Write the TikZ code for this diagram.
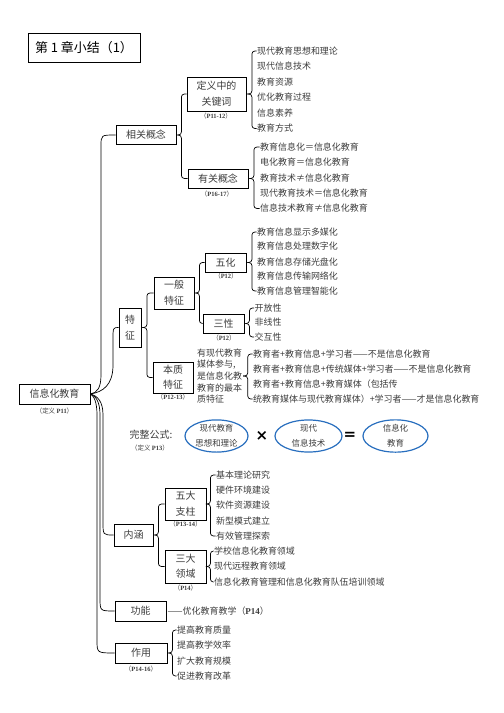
\documentclass[tikz,border=0pt]{standalone}
\usepackage{fontspec}
\setmainfont{Noto Sans CJK SC}
\newfontfamily\symfont{DejaVu Sans}
\newfontfamily\lser{Liberation Serif}
\usetikzlibrary{shapes.geometric}
\definecolor{eblue}{RGB}{40,110,190}
\definecolor{txt}{RGB}{60,60,60}
\newcommand\pref[1]{{\lser\bfseries #1}}
\tikzset{
  box/.style={draw=black, line width=0.8bp, rectangle, inner sep=0pt, align=center,
    text=txt, font=\fontsize{10}{16}\selectfont},
  itemtext/.style={anchor=west, inner sep=0.5bp, text=txt, font=\fontsize{9}{11}\selectfont},
  reflabel/.style={inner sep=0pt, text=txt, font=\fontsize{6.5}{7}\selectfont},
  brc/.style={draw=black, line width=0.7bp, rounded corners=3bp},
  rootc/.style={draw=black, line width=0.7bp},
  ell/.style={ellipse, draw=eblue, line width=1.2bp, inner sep=0pt, minimum height=28bp,
    align=center, text=txt, font=\fontsize{8.5}{15}\selectfont},
}
\newcommand\mybrace[4]{%
  \draw[brc] ([xshift=1bp]#2) -- ++(#1,0) |- (#3);
  \draw[brc] ([xshift=1bp]#2) -- ++(#1,0) |- (#4);}
\begin{document}
\begin{tikzpicture}[x=1bp,y=-1bp]
\useasboundingbox (0,0) rectangle (504,713);

% title
\node[box, minimum width=112bp, minimum height=29bp, text=black, font=\fontsize{13}{13}\selectfont] (title) at (84,47.5) {第 1 章小结（1）};

% main nodes
\node[box, minimum width=71bp, minimum height=20bp] (root) at (54.5,394) {信息化教育};
\node[reflabel] (rootl) at (54.5,411) {（定义 \pref{P11}）};

\node[box, minimum width=60bp, minimum height=19bp] (xg) at (146,135) {相关概念};
\node[box, minimum width=59bp, minimum height=34bp] (dy) at (216.5,94) {定义中的\\关键词};
\node[reflabel] (dyl) at (216,116) {（\pref{P11-12}）};
\node[box, minimum width=60bp, minimum height=19bp] (yg) at (218,178.5) {有关概念};
\node[reflabel] (ygl) at (217,194) {（\pref{P16-17}）};

\node[box, minimum width=22bp, minimum height=39bp] (tz) at (130,327.5) {特\\征};
\node[box, minimum width=40bp, minimum height=32bp] (yb) at (174,293) {一般\\特征};
\node[box, minimum width=41bp, minimum height=19bp] (wh) at (225.5,262.5) {五化};
\node[reflabel] (whl) at (226,276.5) {（\pref{P12}）};
\node[box, minimum width=41bp, minimum height=19bp] (sx) at (223.5,323.5) {三性};
\node[reflabel] (sxl) at (224,338) {（\pref{P12}）};
\node[box, minimum width=40bp, minimum height=31bp, font=\fontsize{10}{15}\selectfont] (bz) at (173,377.5) {本质\\特征};
\node[reflabel] (bzl) at (173,397) {（\pref{P12-13}）};
\node[anchor=west, inner sep=0pt, align=left, text=txt, font=\fontsize{9}{11.75}\selectfont] (desc) at (197,376) {有现代教育\\媒体参与,\\是信息化教\\教育的最本\\质特征};

\node[box, minimum width=39bp, minimum height=22bp] (nh) at (133.5,535) {内涵};
\node[box, minimum width=41bp, minimum height=32bp] (wd) at (185.5,504) {五大\\支柱};
\node[reflabel] (wdl) at (185.5,524) {（\pref{P13-14}）};
\node[box, minimum width=41bp, minimum height=33bp, font=\fontsize{10}{15}\selectfont] (sd) at (185.5,566.5) {三大\\领域};
\node[reflabel] (sdl) at (185.5,588) {（\pref{P14}）};

\node[box, minimum width=51bp, minimum height=20bp] (gn) at (140.5,611) {功能};
\node[itemtext] (gnt) at (167,611) {——优化教育教学（\pref{P14}）};
\node[box, minimum width=52bp, minimum height=20bp] (zy) at (141,653) {作用};
\node[reflabel] (zyl) at (141,669) {（\pref{P14-16}）};

% formula
\node[inner sep=0pt, text=txt, font=\fontsize{10}{12}\selectfont] (wz) at (151,435) {完整公式:};
\node[reflabel] (wzl) at (150,448) {（定义 \pref{P13}）};
\node[ell, minimum width=63bp] (el1) at (216.5,436) {现代教育\\思想和理论};
\node[inner sep=0pt, font=\symfont\bfseries\fontsize{15}{15}\selectfont] (times) at (262,436) {×};
\node[ell, minimum width=67bp] (el2) at (308.5,436) {现代\\信息技术};
\node[inner sep=0pt, font=\symfont\bfseries\fontsize{15}{15}\selectfont] (eq) at (350,436) {=};
\node[ell, minimum width=65bp] (el3) at (395.5,436) {信息化\\教育};

% lists
\foreach \t/\y [count=\i] in {现代教育思想和理论/51, 现代信息技术/66.5, 教育资源/82, 优化教育过程/97.5, 信息素养/113, 教育方式/128.5}
  \node[itemtext] (a\i) at (256.5,\y) {\t};
\foreach \t/\y [count=\i] in {教育信息化＝信息化教育/147, 电化教育＝信息化教育/162.5, 教育技术≠信息化教育/178, 现代教育技术＝信息化教育/193, 信息技术教育≠信息化教育/208.5}
  \node[itemtext] (b\i) at (259.5,\y) {\t};
\foreach \t/\y [count=\i] in {教育信息显示多媒化/232, 教育信息处理数字化/246.5, 教育信息存储光盘化/262, 教育信息传输网络化/276.5, 教育信息管理智能化/291}
  \node[itemtext] (c\i) at (256.5,\y) {\t};
\foreach \t/\y [count=\i] in {开放性/308, 非线性/322.5, 交互性/337}
  \node[itemtext] (d\i) at (254,\y) {\t};
\foreach \t/\y [count=\i] in {教育者+教育信息+学习者——不是信息化教育/354, 教育者+教育信息+传统媒体+学习者——不是信息化教育/369.5, 教育者+教育信息+教育媒体（包括传/384, 统教育媒体与现代教育媒体）+学习者——才是信息化教育/399}
  \node[itemtext] (e\i) at (252.5,\y) {\t};
\foreach \t/\y [count=\i] in {基本理论研究/475, 硬件环境建设/490, 软件资源建设/505.5, 新型模式建立/521, 有效管理探索/536}
  \node[itemtext] (f\i) at (215.5,\y) {\t};
\foreach \t/\y [count=\i] in {学校信息化教育领域/551, 现代远程教育领域/566.5, 信息化教育管理和信息化教育队伍培训领域/582}
  \node[itemtext] (g\i) at (213.5,\y) {\t};
\foreach \t/\y [count=\i] in {提高教育质量/630, 提高教学效率/645.5, 扩大教育规模/661, 促进教育改革/676}
  \node[itemtext] (h\i) at (176.5,\y) {\t};

% braces
\mybrace{4}{xg.east}{dy.west}{yg.west}
\mybrace{4.5}{dy.east}{a1.west}{a6.west}
\mybrace{4.5}{yg.east}{b1.west}{b5.west}
\mybrace{4.5}{tz.east}{yb.west}{bz.west}
\mybrace{4}{yb.east}{wh.west}{sx.west}
\mybrace{4.5}{wh.east}{c1.west}{c5.west}
\mybrace{4}{sx.east}{d1.west}{d3.west}
\mybrace{4.5}{desc.east}{e1.west}{e4.west}
\mybrace{4}{nh.east}{wd.west}{sd.west}
\mybrace{3}{wd.east}{f1.west}{f5.west}
\mybrace{3}{sd.east}{g1.west}{g3.west}
\mybrace{4}{zy.east}{h1.west}{h4.west}

% root connectors
\draw[rootc] (root.east) .. controls (97,393) and (101,388) .. (101,375) -- (101,146) .. controls (101,135) .. (xg.west);
\draw[rootc] (root.east) .. controls (103,392) and (113,385) .. (113,365) -- (113,340) .. controls (113,327.5) .. (tz.west);
\draw[rootc] (root.east) .. controls (98,396) and (103,402) .. (103,415) -- (103,522) .. controls (103,535) .. (nh.west);
\draw[rootc] (root.east) .. controls (96,396) and (100,402) .. (100,415) -- (100,598) .. controls (100,611) .. (gn.west);
\draw[rootc] (root.east) .. controls (94,396) and (97,402) .. (97,415) -- (97,640) .. controls (97,653) .. (zy.west);
\end{tikzpicture}
\end{document}
